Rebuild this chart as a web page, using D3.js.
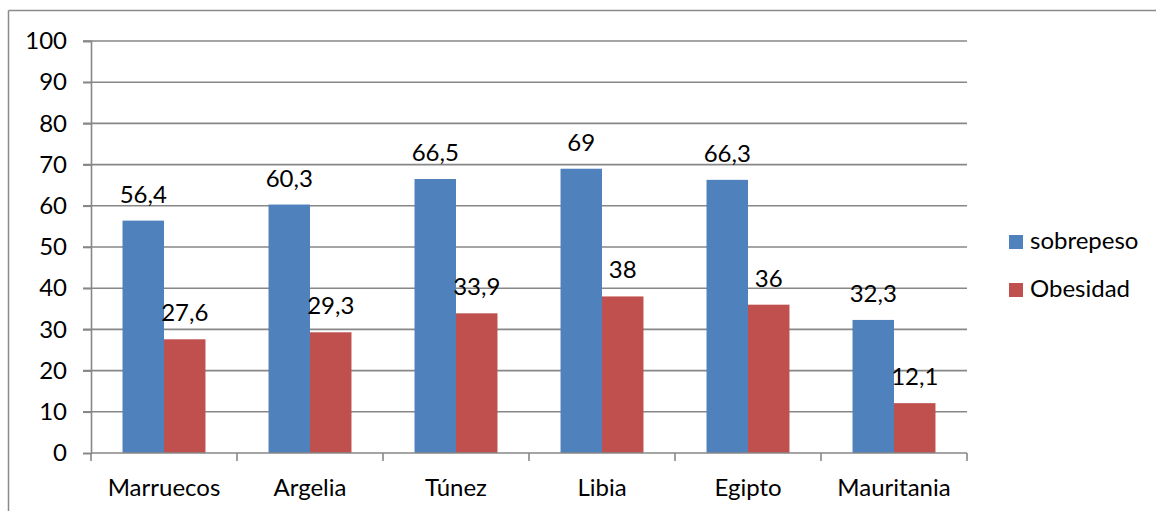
<!DOCTYPE html>
<html>
<head>
<meta charset="utf-8">
<script src="https://cdn.jsdelivr.net/npm/d3@7"></script>
<style>
  html, body { margin: 0; padding: 0; background: #fff; }
  svg { display: block; }
  text { font-family: Lato, "Open Sans", sans-serif; fill: #000; }
</style>
</head>
<body>
<svg id="chart" width="1156" height="511"></svg>
<script>
const categories = ["Marruecos", "Argelia", "Túnez", "Libia", "Egipto", "Mauritania"];
const seriesNames = ["sobrepeso", "Obesidad"];
const sobrepeso = [56.4, 60.3, 66.5, 69, 66.3, 32.3];
const obesidad = [27.6, 29.3, 33.9, 38, 36, 12.1];
const yTicks = [0, 10, 20, 30, 40, 50, 60, 70, 80, 90, 100];
const colors = ["#4F81BD", "#C0504D"];

const seriesValues = [sobrepeso, obesidad];
const svg = d3.select("#chart");
const fontSize = 24;

// outer frame
svg.append("line").attr("x1", 8.5).attr("x2", 1156).attr("y1", 10.5).attr("y2", 10.5)
  .attr("stroke", "#8a8a8a").attr("stroke-width", 1.5);
svg.append("line").attr("x1", 8.5).attr("x2", 8.5).attr("y1", 10.5).attr("y2", 511)
  .attr("stroke", "#8a8a8a").attr("stroke-width", 1.5);

const plotLeft = 91, plotRight = 967, plotTop = 41, plotBottom = 453;

const x0 = d3.scaleBand().domain(categories).range([plotLeft, plotRight]).paddingInner(0).paddingOuter(0);
const x1 = d3.scaleBand().domain(seriesNames).range([0, x0.bandwidth()]).paddingInner(0).paddingOuter(0.76);
const y = d3.scaleLinear().domain([0, 100]).range([plotBottom, plotTop]);

const loc = d3.formatLocale({decimal: ",", thousands: ".", grouping: [3], currency: ["", "€"]});
const fmt = loc.format(".3~r");

// gridlines
const grid = svg.append("g");
grid.selectAll("line").data(yTicks.filter(t => t > 0)).join("line")
  .attr("x1", plotLeft - 8).attr("x2", plotRight)
  .attr("y1", d => y(d)).attr("y2", d => y(d))
  .attr("stroke", "#878787").attr("stroke-width", 1.6);

// y axis
const yAxis = d3.axisLeft(y).tickValues(yTicks).tickSize(8).tickPadding(16).tickFormat(d => d);
const gy = svg.append("g").attr("transform", `translate(${plotLeft},0)`).call(yAxis);
gy.select(".domain").attr("stroke", "#878787").attr("stroke-width", 1.6);
gy.selectAll(".tick line").attr("stroke", "#878787").attr("stroke-width", 1.6);
gy.selectAll(".tick text").attr("font-size", fontSize).attr("font-family", "Lato, sans-serif").attr("fill", "#000");

// bars
const groups = svg.append("g").selectAll("g").data(categories).join("g")
  .attr("transform", d => `translate(${x0(d)},0)`);
groups.selectAll("rect").data((c, i) => seriesNames.map((s, k) => ({s, k, v: seriesValues[k][i]}))).join("rect")
  .attr("x", d => x1(d.s)).attr("width", x1.bandwidth())
  .attr("y", d => y(d.v)).attr("height", d => y(0) - y(d.v))
  .attr("fill", d => colors[d.k]);

// data labels
groups.selectAll("text.lbl").data((c, i) => seriesNames.map((s, k) => ({s, k, v: seriesValues[k][i]}))).join("text")
  .attr("class", "lbl")
  .attr("x", d => x1(d.s) + x1.bandwidth() / 2)
  .attr("y", d => y(d.v) - 18)
  .attr("text-anchor", "middle").attr("font-size", fontSize)
  .text(d => fmt(d.v));

// x axis
svg.append("line").attr("x1", plotLeft).attr("x2", plotRight).attr("y1", plotBottom).attr("y2", plotBottom)
  .attr("stroke", "#878787").attr("stroke-width", 1.6);
const bounds = categories.map(c => x0(c)).concat([x0(categories[categories.length - 1]) + x0.bandwidth()]);
svg.append("g").selectAll("line").data(bounds).join("line")
  .attr("x1", d => d).attr("x2", d => d).attr("y1", plotBottom).attr("y2", plotBottom + 8)
  .attr("stroke", "#878787").attr("stroke-width", 1.6);
svg.append("g").selectAll("text").data(categories).join("text")
  .attr("x", d => x0(d) + x0.bandwidth() / 2).attr("y", 496)
  .attr("text-anchor", "middle").attr("font-size", fontSize)
  .text(d => d);

// legend
const legend = svg.append("g").selectAll("g").data(seriesNames).join("g")
  .attr("transform", (d, i) => `translate(1009,${235 + i * 48})`);
legend.append("rect").attr("width", 14).attr("height", 14).attr("fill", (d, i) => colors[i]);
legend.append("text").attr("x", 21).attr("y", 14).attr("font-size", fontSize).text(d => d);
</script>
</body>
</html>
